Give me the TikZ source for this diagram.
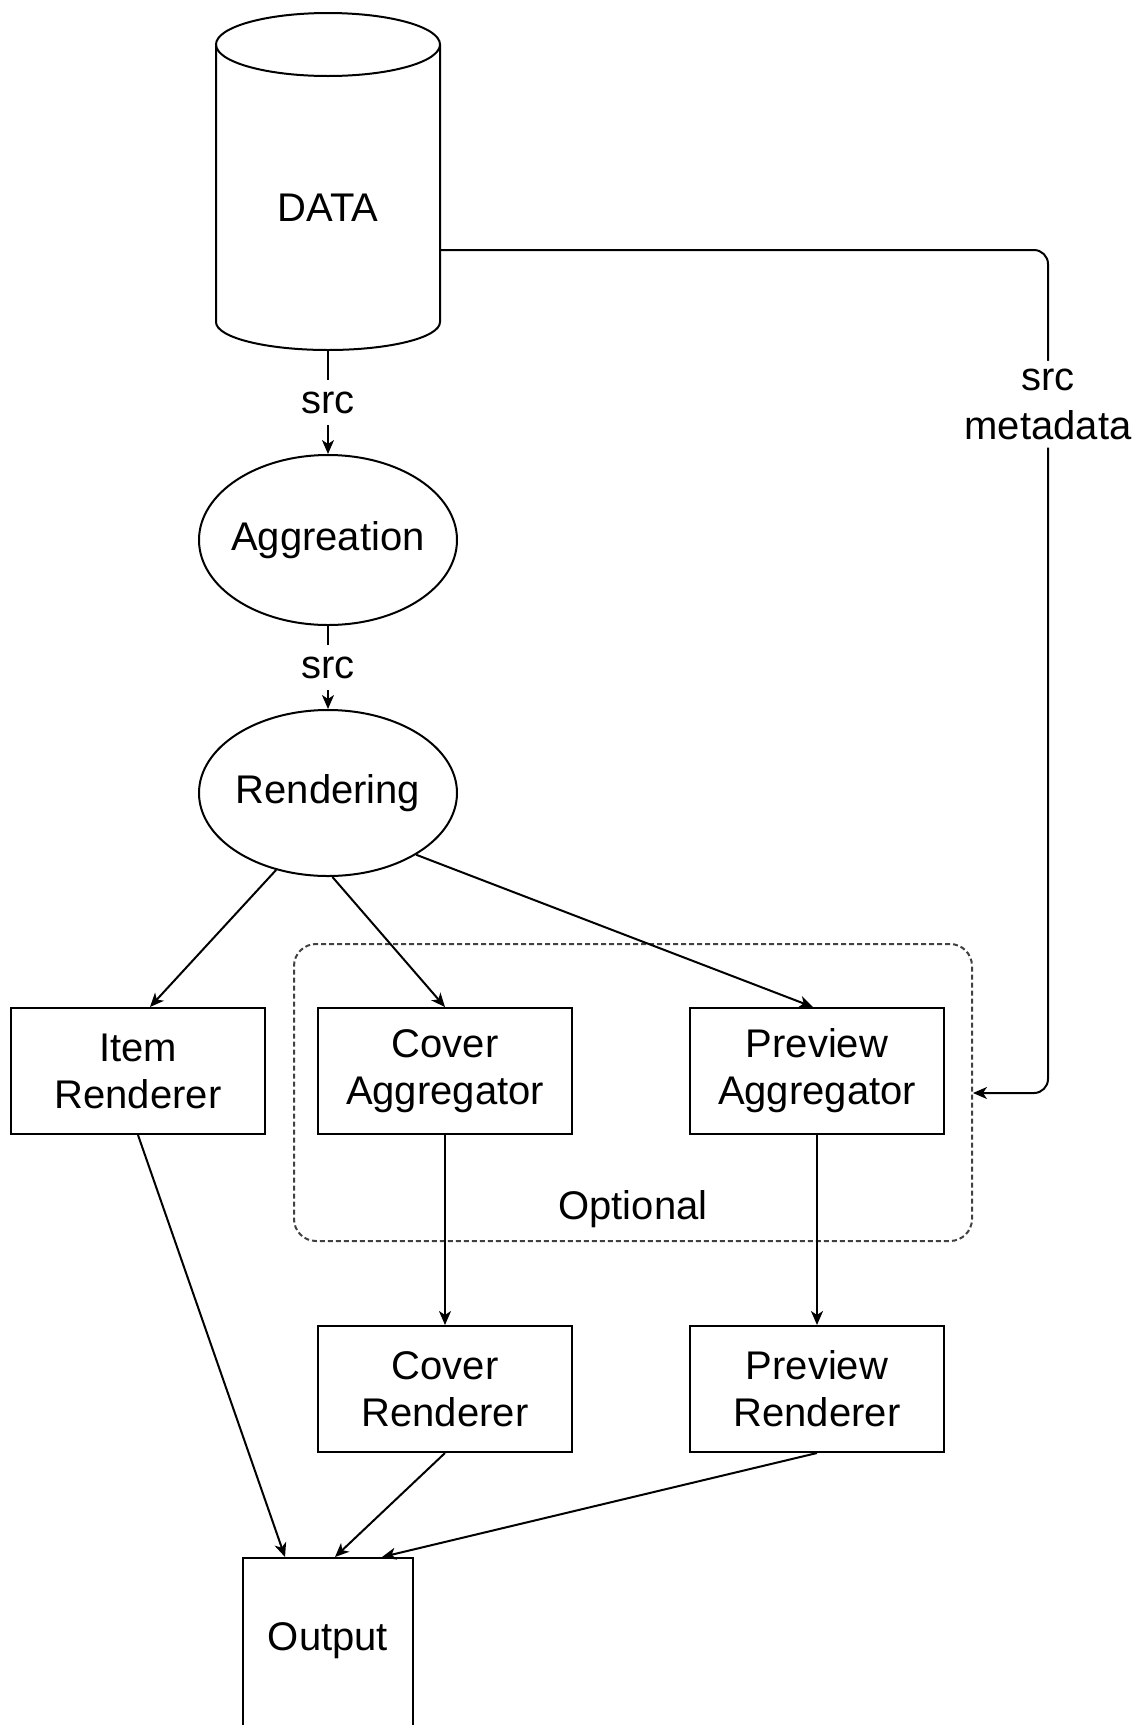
\documentclass[tikz,border=0pt]{standalone}
\usepackage{fontspec}
\setmainfont{Liberation Sans}
\usetikzlibrary{arrows.meta,shapes.geometric}
\begin{document}
\begin{tikzpicture}[x=0.5pt,y=-0.5pt, line width=1pt,
  every node/.style={font=\fontsize{20pt}{23.5pt}\selectfont},
  box/.style={draw, rectangle, minimum width=127pt, minimum height=63pt, align=center, inner sep=0pt},
  oval/.style={draw, ellipse, minimum width=129pt, inner sep=0pt},
  arr/.style={-{Stealth[length=7pt,width=6pt,inset=2pt]}},
  lbl/.style={fill=white, inner xsep=2pt, inner ysep=6pt},
  lbl2/.style={fill=white, align=center, inner xsep=2pt, inner ysep=4pt, font=\fontsize{20pt}{24.5pt}\selectfont},
  optbox/.style={draw=black!75, dash pattern=on 2.5pt off 1.5pt, rounded corners=11pt, minimum width=339pt, minimum height=148.5pt, inner sep=0pt}]
\clip (0,0) rectangle (1140,1725);
% cylinder
\node[minimum width=112pt, minimum height=168.5pt, inner sep=0pt] (data) at (328,181.5) {};
\draw (216,44.5) -- (216,322) arc[start angle=180, end angle=360, x radius=56pt, y radius=14pt] -- (440,44.5);
\draw (328,44.5) ellipse [x radius=56pt, y radius=15.75pt];
\node (datatxt) at (328,208) {DATA};
% ellipses
\node[oval, minimum height=85pt] (agg) at (328,540) {\makebox[0pt]{Aggreation}};
\node[oval, minimum height=83pt] (rend) at (328,793) {\makebox[0pt]{Rendering}};
% optional group
\node[optbox] (opt) at (633,1092.5) {};
\node (optlbl) at (633,1209) {Optional};
% boxes
\node[box] (item) at (138,1071) {Item\\Renderer};
\node[box] (cagg) at (445,1071) {Cover\\Aggregator};
\node[box] (pagg) at (817,1071) {Preview\\Aggregator};
\node[box] (cren) at (445,1389) {Cover\\Renderer};
\node[box] (pren) at (817,1389) {Preview\\Renderer};
\node[draw, rectangle, minimum width=85pt, minimum height=92pt, inner sep=0pt] (out) at (328,1650) {};
\node (outtxt) at (328,1641) {Output};
% connectors
\draw[arr] (data.south) -- node[lbl]{src} (agg.north);
\draw[arr] (agg.south) -- node[lbl]{src} (rend.north);
\coordinate (m1) at (1048,250);
\coordinate (m2) at (1048,1093);
\draw[arr, rounded corners=7pt] (data.east |- m1) -- (m1) -- node[lbl2, pos=0.183]{src\\metadata} (m2) -- (opt.east |- m2);
\draw[arr] (rend.236) -- ([xshift=6pt]item.north);
\draw[arr] (rend.273) -- (cagg.north);
\draw[arr] (rend.325) -- ([xshift=-2pt]pagg.north);
\draw[arr] (cagg.south) -- (cren.north);
\draw[arr] (pagg.south) -- (pren.north);
\draw[arr] (item.south) -- ([xshift=-21.5pt]out.north);
\draw[arr] (cren.south) -- ([xshift=3.5pt]out.north);
\draw[arr] (pren.south) -- ([xshift=27pt]out.north);
\end{tikzpicture}
\end{document}
